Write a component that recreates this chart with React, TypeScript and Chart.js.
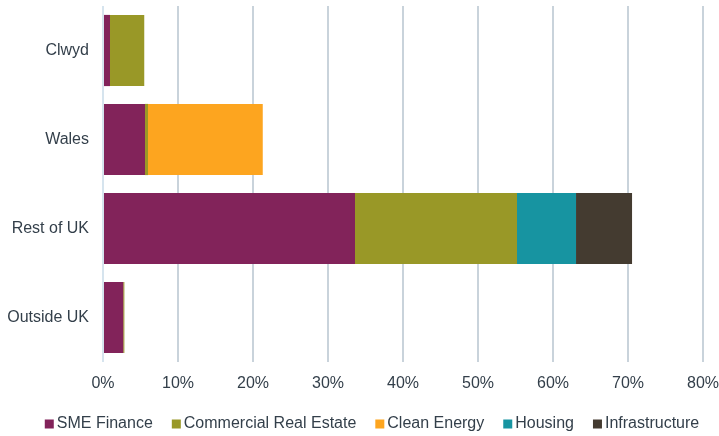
import React, { useEffect, useRef } from "react";
import { Chart, registerables } from "chart.js";

Chart.register(...registerables);

const categories = ["Clwyd", "Wales", "Rest of UK", "Outside UK"];
const seriesNames = ["SME Finance", "Commercial Real Estate", "Clean Energy", "Housing", "Infrastructure"];
const smeFinance = [0.93, 5.6, 33.6, 2.7];
const commercialRealEstate = [4.57, 0.4, 21.6, 0.15];
const cleanEnergy = [0, 15.3, 0, 0];
const housing = [0, 0, 7.87, 0];
const infrastructure = [0, 0, 7.47, 0];
const xTicks = [0, 10, 20, 30, 40, 50, 60, 70, 80];
const colors = ["#82235A", "#999827", "#FDA51F", "#1794A1", "#443B30"];

const FONT = "'Liberation Sans', Arial, sans-serif";
const TEXT = "#333F4A";

const legendPlugin = {
  id: "customLegend",
  afterDraw(chart: any) {
    const ctx = chart.ctx;
    ctx.save();
    ctx.font = `16px ${FONT}`;
    ctx.textBaseline = "middle";
    ctx.textAlign = "left";
    const box = 9;
    const gap = 3;
    const spacing = 19;
    const items = chart.data.datasets.map((d: any) => ({ label: d.label, color: d.backgroundColor }));
    const widths = items.map((it: any) => box + gap + ctx.measureText(it.label).width);
    const total = widths.reduce((a: number, b: number) => a + b, 0) + spacing * (items.length - 1);
    let x = 372 - total / 2;
    const y = 424;
    items.forEach((it: any, i: number) => {
      ctx.fillStyle = it.color;
      ctx.fillRect(x, y - box / 2, box, box);
      ctx.fillStyle = TEXT;
      ctx.fillText(it.label, x + box + gap, y);
      x += widths[i] + spacing;
    });
    ctx.restore();
  },
};

const zeroPad = (scale: any) => {
  scale.paddingTop = 0;
  scale.paddingBottom = 0;
  scale.paddingLeft = 0;
  scale.paddingRight = 0;
};

export default function App() {
  const ref = useRef<HTMLCanvasElement | null>(null);
  useEffect(() => {
    if (!ref.current) return;
    const seriesData = [smeFinance, commercialRealEstate, cleanEnergy, housing, infrastructure];
    const chart = new Chart(ref.current, {
      type: "bar",
      data: {
        labels: categories,
        datasets: seriesNames.map((name, i) => ({
          label: name,
          data: seriesData[i],
          backgroundColor: colors[i],
          borderWidth: 0,
          barPercentage: 1,
          categoryPercentage: 0.8,
        })),
      },
      options: {
        indexAxis: "y",
        animation: false,
        responsive: false,
        maintainAspectRatio: false,
        layout: { padding: { top: 6, right: 16, left: 0, bottom: 0 } },
        plugins: { legend: { display: false }, tooltip: { enabled: false } },
        scales: {
          x: {
            stacked: true,
            min: 0,
            max: 80,
            afterBuildTicks: (scale: any) => {
              scale.ticks = xTicks.map((v) => ({ value: v }));
            },
            afterFit: (scale: any) => {
              scale.height = 74;
              zeroPad(scale);
            },
            ticks: {
              callback: (v: any) => v + "%",
              color: TEXT,
              font: { family: FONT, size: 16 },
              padding: 12,
              maxRotation: 0,
            },
            grid: {
              color: (c: any) => (c.index === 0 ? "#D6E4EE" : "#C9D3DB"),
              lineWidth: 2,
              drawTicks: false,
            },
            border: { display: false },
          },
          y: {
            stacked: true,
            afterFit: (scale: any) => {
              scale.width = 103;
              zeroPad(scale);
            },
            ticks: {
              color: TEXT,
              font: { family: FONT, size: 16 },
              padding: 14,
            },
            grid: { display: false, drawTicks: false },
            border: { display: false },
          },
        },
      },
      plugins: [legendPlugin],
    } as any);
    return () => chart.destroy();
  }, []);
  return (
    <div style={{ position: "absolute", left: 0, top: 0, width: 719, height: 436 }}>
      <canvas ref={ref} width={719} height={436} style={{ width: 719, height: 436 }} />
    </div>
  );
}
